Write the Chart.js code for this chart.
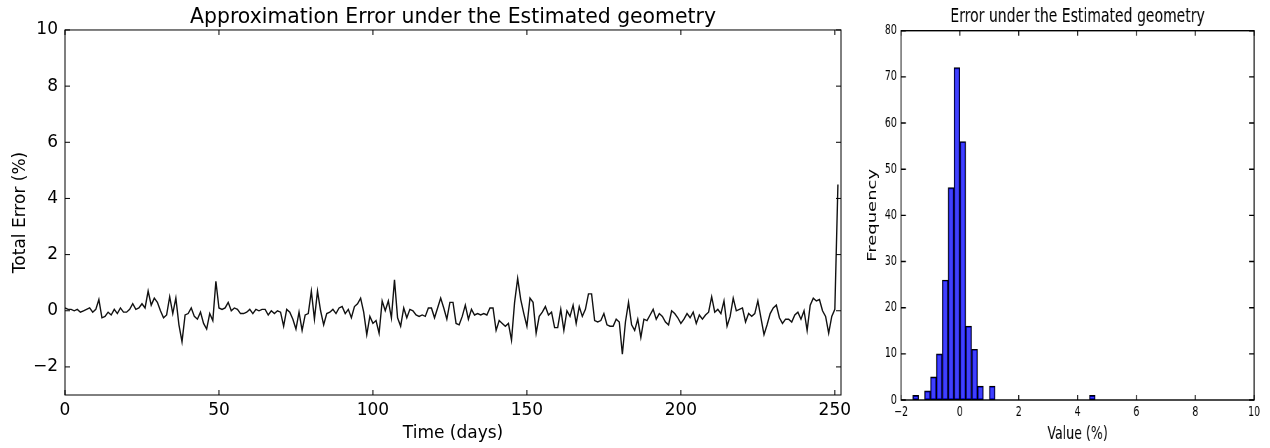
<!DOCTYPE html>
<html>
<head>
<meta charset="utf-8">
<title>Approximation Error under the Estimated geometry</title>
<script src="https://cdn.jsdelivr.net/npm/chart.js@4.4.1/dist/chart.umd.min.js"></script>
<style>
  html, body { margin: 0; padding: 0; background: #fff; }
  #wrap { position: relative; width: 1270px; height: 448px; overflow: hidden; }
  #left { position: absolute; left: 0; top: 0; width: 860px; height: 448px; }
  /* the histogram panel is horizontally squeezed in the reference */
  #right { position: absolute; left: 860px; top: 0; width: 586px; height: 448px; transform: scaleX(0.7); transform-origin: 0 0; }
</style>
</head>
<body>
<div id="wrap">
  <div id="left"><canvas id="errorLine" width="860" height="448"></canvas></div>
  <div id="right"><canvas id="errorHist" width="586" height="448"></canvas></div>
</div>
<script>
// Total error (%) per day, days 0..251
const totalError = [
  0.1, 0.05, 0.05, 0.0, 0.05, -0.05, 0.0, 0.05, 0.1, -0.05,
  0.05, 0.4, -0.25, -0.2, -0.05, -0.15, 0.05, -0.1, 0.1, -0.05,
  -0.05, 0.05, 0.25, 0.05, 0.1, 0.25, 0.1, 0.7, 0.2, 0.45,
  0.3, 0.0, -0.25, -0.15, 0.5, -0.1, 0.45, -0.5, -1.1, -0.15,
  -0.1, 0.1, -0.2, -0.3, -0.05, -0.45, -0.65, -0.1, -0.35, 1.05,
  0.1, 0.05, 0.1, 0.3, 0.0, 0.1, 0.05, -0.1, -0.1, -0.05,
  0.05, -0.1, 0.05, 0.0, 0.05, 0.05, -0.15, 0.0, -0.1, 0.0,
  -0.05, -0.55, 0.05, -0.05, -0.3, -0.65, -0.05, -0.7, -0.15, -0.1,
  0.7, -0.3, 0.7, 0.0, -0.5, -0.1, -0.05, 0.05, -0.1, 0.1,
  0.15, -0.1, 0.05, -0.25, 0.15, 0.25, 0.45, -0.05, -0.85, -0.2,
  -0.45, -0.35, -0.8, 0.35, 0.0, 0.35, -0.25, 1.1, -0.25, -0.55,
  0.1, -0.25, 0.05, 0.0, -0.15, -0.2, -0.15, -0.2, 0.1, 0.1,
  -0.25, 0.1, 0.45, 0.1, -0.3, 0.3, 0.3, -0.45, -0.5, -0.2,
  0.2, -0.3, 0.05, -0.15, -0.1, -0.15, -0.1, -0.15, 0.1, 0.1,
  -0.7, -0.35, -0.45, -0.55, -0.45, -1.05, 0.3, 1.15, 0.4, -0.1,
  -0.55, 0.45, 0.3, -0.8, -0.2, -0.05, 0.15, -0.15, -0.05, -0.6,
  -0.6, 0.05, -0.7, 0.0, -0.2, 0.2, -0.45, 0.15, -0.2, 0.05,
  0.6, 0.6, -0.35, -0.4, -0.35, -0.1, -0.5, -0.55, -0.55, -0.3,
  -0.4, -1.55, -0.4, 0.3, -0.5, -0.7, -0.3, -0.95, -0.3, -0.35,
  -0.15, 0.05, -0.3, -0.1, -0.2, -0.4, -0.5, 0.0, -0.1, -0.25,
  -0.45, -0.3, -0.1, -0.25, -0.05, -0.45, -0.15, -0.3, -0.15, -0.05,
  0.5, -0.05, 0.05, -0.1, 0.35, -0.55, -0.2, 0.45, 0.0, 0.05,
  0.1, -0.4, -0.1, -0.2, -0.1, 0.35, -0.25, -0.85, -0.5, -0.1,
  0.1, 0.2, -0.25, -0.45, -0.3, -0.3, -0.4, -0.15, -0.05, -0.3,
  0.0, -0.7, 0.2, 0.45, 0.35, 0.4, 0.0, -0.2, -0.8, -0.2,
  0.05, 4.5
];
const timeTicks = [0, 50, 100, 150, 200, 250];
const errorTicks = [-2, 0, 2, 4, 6, 8, 10];

// histogram bins (width 0.2) and their counts
const binCenters = [
  -1.5, -1.3, -1.1, -0.9, -0.7, -0.5, -0.3, -0.1, 0.1, 0.3, 0.5, 0.7, 0.9, 1.1, 1.3, 1.5,
  1.7, 1.9, 2.1, 2.3, 2.5, 2.7, 2.9, 3.1, 3.3, 3.5, 3.7, 3.9, 4.1, 4.3, 4.5
];
const binCounts = [
  1, 0, 2, 5, 10, 26, 46, 72, 56, 16, 11, 3, 0, 3, 0, 0,
  0, 0, 0, 0, 0, 0, 0, 0, 0, 0, 0, 0, 0, 0, 1
];
const valueTicks = [-2, 0, 2, 4, 6, 8, 10];
const freqTicks = [0, 10, 20, 30, 40, 50, 60, 70, 80];

const FONT = 'DejaVu Sans';

function minusLabel(v) {
  return v < 0 ? '\u2212' + Math.abs(v) : String(v);
}

function fixedTicks(list) {
  return function (scale) {
    scale.ticks = list.map(v => ({ value: v }));
  };
}

// matplotlib-style frame with inward ticks on all four sides
const frameTicks = {
  id: 'frameTicks',
  afterDraw(chart, args, opts) {
    const { ctx, chartArea: a, scales } = chart;
    ctx.save();
    ctx.strokeStyle = '#000';
    ctx.lineWidth = opts.lineWidth || 1;
    ctx.strokeRect(a.left, a.top, a.right - a.left, a.bottom - a.top);
    ctx.beginPath();
    scales.x.ticks.forEach(t => {
      const px = scales.x.getPixelForValue(t.value);
      ctx.moveTo(px, a.bottom); ctx.lineTo(px, a.bottom - opts.vlen);
      ctx.moveTo(px, a.top); ctx.lineTo(px, a.top + opts.vlen);
    });
    scales.y.ticks.forEach(t => {
      const py = scales.y.getPixelForValue(t.value);
      ctx.moveTo(a.left, py); ctx.lineTo(a.left + opts.hlen, py);
      ctx.moveTo(a.right, py); ctx.lineTo(a.right - opts.hlen, py);
    });
    ctx.stroke();
    ctx.restore();
  }
};

// ---- left: error over time ----
new Chart(document.getElementById('errorLine').getContext('2d'), {
  type: 'line',
  data: {
    datasets: [{
      data: totalError.map((v, i) => ({ x: i, y: v })),
      borderColor: '#111',
      borderWidth: 1.4,
      pointRadius: 0,
      tension: 0,
      fill: false
    }]
  },
  options: {
    responsive: false,
    animation: false,
    layout: { padding: { left: 0, right: 19, top: 0, bottom: 0 } },
    plugins: {
      legend: { display: false },
      tooltip: { enabled: false },
      title: {
        display: true,
        fullSize: false,
        text: 'Approximation Error under the Estimated geometry',
        color: '#000',
        font: { family: FONT, size: 20.4, weight: 'normal' },
        padding: { top: 5, bottom: 0.5 }
      },
      frameTicks: { vlen: 5, hlen: 5, lineWidth: 1 }
    },
    scales: {
      x: {
        type: 'linear',
        min: 0,
        max: 252,
        afterBuildTicks: fixedTicks(timeTicks),
        afterFit: s => { s.height = 53; },
        grid: { display: false, drawTicks: false },
        border: { display: false },
        ticks: { color: '#000', padding: 5, maxRotation: 0, font: { family: FONT, size: 17 }, callback: minusLabel },
        title: { display: true, text: 'Time (days)', color: '#000', font: { family: FONT, size: 17 }, padding: { top: 0, bottom: 4 } }
      },
      y: {
        min: -3,
        max: 10,
        afterBuildTicks: fixedTicks(errorTicks),
        afterFit: s => { s.width = 65; },
        grid: { display: false, drawTicks: false },
        border: { display: false },
        ticks: { color: '#000', padding: 7, font: { family: FONT, size: 17 }, callback: minusLabel },
        title: { display: true, text: 'Total Error (%)', color: '#000', font: { family: FONT, size: 17 }, padding: { top: 10, bottom: 0 } }
      }
    }
  },
  plugins: [frameTicks]
});

// ---- right: histogram of errors ----
new Chart(document.getElementById('errorHist').getContext('2d'), {
  type: 'bar',
  data: {
    datasets: [{
      data: binCenters.map((c, i) => ({ x: c, y: binCounts[i] })),
      backgroundColor: 'rgba(0, 0, 255, 0.75)',
      borderColor: '#000',
      borderWidth: 1.3,
      borderSkipped: false,
      barPercentage: 1,
      categoryPercentage: 1
    }]
  },
  options: {
    responsive: false,
    animation: false,
    layout: { padding: { left: 0, right: 23, top: 0, bottom: 0 } },
    plugins: {
      legend: { display: false },
      tooltip: { enabled: false },
      title: {
        display: true,
        fullSize: false,
        text: 'Error under the Estimated geometry',
        color: '#000',
        font: { family: FONT, size: 20, weight: 'normal' },
        padding: { top: 5, bottom: 1.7 }
      },
      frameTicks: { vlen: 5, hlen: 7, lineWidth: 1.4 }
    },
    scales: {
      x: {
        type: 'linear',
        min: -2,
        max: 10,
        offset: false,
        afterBuildTicks: fixedTicks(valueTicks),
        afterFit: s => { s.height = 48; },
        grid: { display: false, drawTicks: false, offset: false },
        border: { display: false },
        ticks: { color: '#000', padding: 4, maxRotation: 0, font: { family: FONT, size: 13.5 }, callback: minusLabel },
        title: { display: true, text: 'Value (%)', color: '#000', font: { family: FONT, size: 18 }, padding: { top: 0, bottom: 3 } }
      },
      y: {
        min: 0,
        max: 80,
        afterBuildTicks: fixedTicks(freqTicks),
        afterFit: s => { s.width = 58.6; },
        grid: { display: false, drawTicks: false },
        border: { display: false },
        ticks: { color: '#000', padding: 6, font: { family: FONT, size: 13.5 } },
        title: { display: true, text: 'Frequency', color: '#000', font: { family: FONT, size: 18 }, padding: { top: 8, bottom: 0 } }
      }
    }
  },
  plugins: [frameTicks]
});
</script>
</body>
</html>
